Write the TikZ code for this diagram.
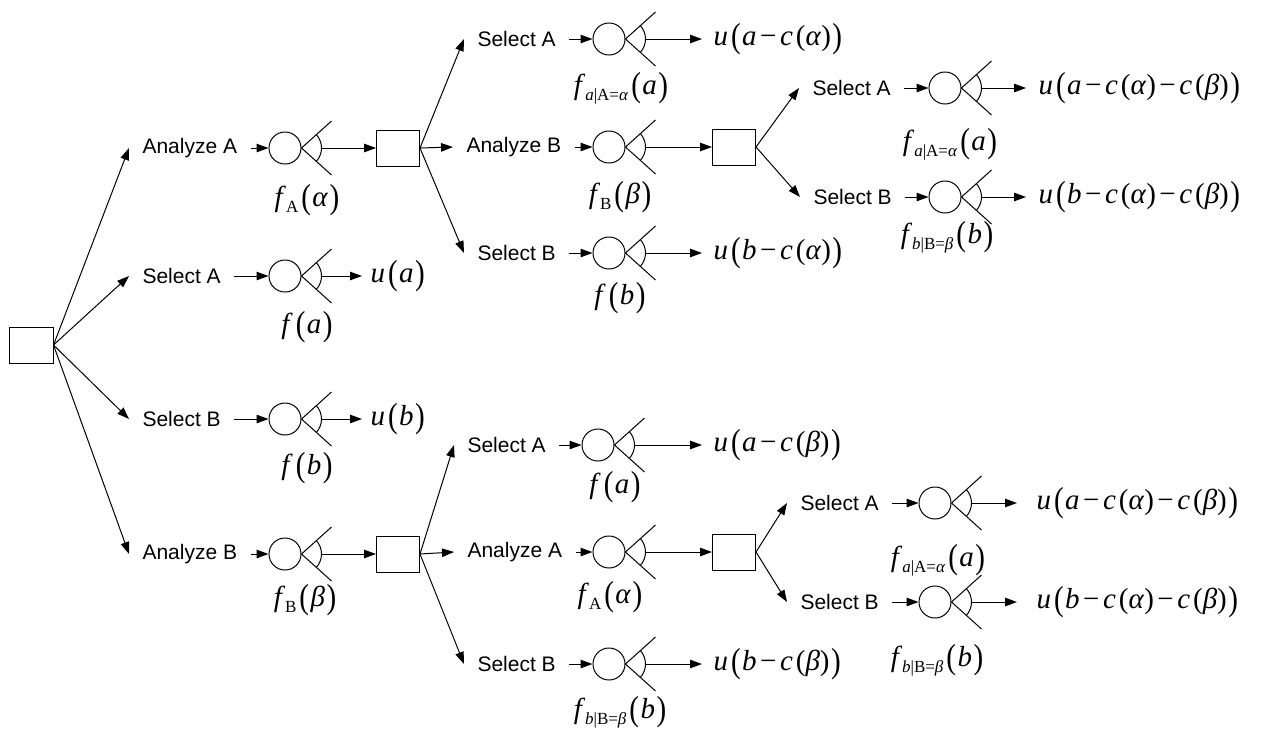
\documentclass[tikz,border=0pt]{standalone}
\usepackage{fontspec}
\usepackage{graphicx}
\setmainfont{Liberation Sans}
\newfontfamily\tms{Liberation Serif}
\usetikzlibrary{arrows.meta,calc}
\tikzset{
 arr/.style={-{Triangle[length=12pt,width=8.5pt]}},
 dec/.style={draw, minimum width=43pt, minimum height=36pt, inner sep=0pt},
 chance/.style={draw, circle, minimum size=32pt, inner sep=0pt},
 lbl/.style={font=\fontsize{21}{21}\selectfont, inner xsep=13pt, inner ysep=2pt, anchor=west},
 mth/.style={font=\tms\fontsize{29}{29}\selectfont, inner sep=0pt},
 val/.style={mth, anchor=west},
}
\newcommand{\fork}[1]{%
 \coordinate (#1-v) at (#1.east);
 \draw (#1-v) -- ++(30,-27) (#1-v) -- ++(30,27);
 \draw (#1-v) ++(-42:20) arc[start angle=-42,end angle=42,radius=20];
 \coordinate (#1-o) at ($(#1-v)+(20,0)$);
}
\newcommand{\vi}[1]{\textit{#1}}
\newcommand{\mm}{\kern3.5pt−\kern3.5pt}
\newcommand{\sbs}[1]{\raisebox{-0.22em}{\fontsize{17}{17}\selectfont #1}}
\newcommand{\lp}{\kern3pt(}
\newcommand{\Lp}{\kern3pt\raisebox{-0.07em}{\scalebox{1}[1.2]{(}}\kern1.5pt}
\newcommand{\Rp}{\kern1.5pt\raisebox{-0.07em}{\scalebox{1}[1.2]{)}}}
\begin{document}
\begin{tikzpicture}[x=1pt,y=-1pt,line width=1pt]
\useasboundingbox (0,0) rectangle (1269,732);
% root
\node[dec, minimum width=44pt] (r) at (31,345) {};
% level 1
\node[lbl] (l1a) at (129,148) {Analyze A};
\node[lbl] (l1b) at (129,276) {Select A};
\node[lbl] (l1c) at (129,419) {Select B};
\node[lbl] (l1d) at (129,554) {Analyze B};
\foreach \n in {l1a,l1b,l1c,l1d} \draw[arr] (r.east) -- (\n.west);
\node[chance] (c1a) at (285,148) {};
\node[chance] (c1b) at (285,276) {};
\node[chance] (c1c) at (285,419) {};
\node[chance] (c1d) at (285,554) {};
\foreach \n in {a,b,c,d} {\draw[arr] (l1\n.east) -- (c1\n.west); \fork{c1\n}}
\node[mth] (f1a) at (307,200) {\vi{f}\sbs{A}\Lp\vi{α}\Rp};
\node[mth] (f1b) at (307,327) {\vi{f}\Lp\vi{a}\Rp};
\node[mth] (f1c) at (307,468) {\vi{f}\Lp\vi{b}\Rp};
\node[mth] (f1d) at (305,600) {\vi{f}\sbs{B}\Lp\vi{β}\Rp};
\node[val] (v1b) at (370,276) {\vi{u}\Lp\vi{a}\Rp};
\node[val] (v1c) at (370,419) {\vi{u}\Lp\vi{b}\Rp};
\draw[arr, shorten >=8pt] (c1b-o) -- (v1b.west);
\draw[arr, shorten >=8pt] (c1c-o) -- (v1c.west);
\node[dec] (d1) at (398,148) {};
\node[dec] (d2) at (398,554) {};
\draw[arr] (c1a-o) -- (d1.west);
\draw[arr] (c1d-o) -- (d2.west);
% level 2 upper
\node[lbl] (l2a) at (464,39) {Select A};
\node[lbl] (l2b) at (453,147) {Analyze B};
\node[lbl] (l2c) at (464,253) {Select B};
\foreach \n in {a,b,c} \draw[arr] (d1.east) -- (l2\n.west);
\node[chance] (c2a) at (609,39) {};
\node[chance] (c2b) at (609,147) {};
\node[chance] (c2c) at (609,253) {};
\foreach \n in {a,b,c} {\draw[arr] (l2\n.east) -- (c2\n.west); \fork{c2\n}}
\node[mth] (f2a) at (621,88) {\vi{f}\sbs{\vi{a}|A=\vi{α}}\Lp\vi{a}\Rp};
\node[mth] (f2b) at (620,197) {\vi{f}\sbs{B}\Lp\vi{β}\Rp};
\node[mth] (f2c) at (620,298) {\vi{f}\Lp\vi{b}\Rp};
\node[val] (v2a) at (713,39) {\vi{u}\Lp\vi{a}\mm\vi{c}\lp\vi{α})\Rp};
\node[val] (v2c) at (713,253) {\vi{u}\Lp\vi{b}\mm\vi{c}\lp\vi{α})\Rp};
\draw[arr, shorten >=11pt] (c2a-o) -- (v2a.west);
\draw[arr, shorten >=11pt] (c2c-o) -- (v2c.west);
\node[dec] (d3) at (734,147) {};
\draw[arr] (c2b-o) -- (d3.west);
% level 3 upper
\node[lbl] (l3a) at (799,88) {Select A};
\node[lbl] (l3b) at (800,197) {Select B};
\foreach \n in {a,b} \draw[arr] (d3.east) -- (l3\n.west);
\node[chance] (c3a) at (945,88) {};
\node[chance] (c3b) at (945,197) {};
\foreach \n in {a,b} {\draw[arr] (l3\n.east) -- (c3\n.west); \fork{c3\n}}
\node[mth] (f3a) at (950,144) {\vi{f}\sbs{\vi{a}|A=\vi{α}}\Lp\vi{a}\Rp};
\node[mth] (f3b) at (947,237) {\vi{f}\sbs{\vi{b}|B=\vi{β}}\Lp\vi{b}\Rp};
\node[val] (v3a) at (1038,88) {\vi{u}\Lp\vi{a}\mm\vi{c}\lp\vi{α})\mm\vi{c}\lp\vi{β})\Rp};
\node[val] (v3b) at (1038,197) {\vi{u}\Lp\vi{b}\mm\vi{c}\lp\vi{α})\mm\vi{c}\lp\vi{β})\Rp};
\draw[arr, shorten >=12pt] (c3a-o) -- (v3a.west);
\draw[arr, shorten >=12pt] (c3b-o) -- (v3b.west);
% level 2 lower
\node[lbl] (l4a) at (454,445) {Select A};
\node[lbl] (l4b) at (454,552) {Analyze A};
\node[lbl] (l4c) at (464,664) {Select B};
\foreach \n in {a,b,c} \draw[arr] (d2.east) -- (l4\n.west);
\node[chance] (c4a) at (598,445) {};
\node[chance] (c4b) at (609,552) {};
\node[chance] (c4c) at (609,664) {};
\foreach \n in {a,b,c} {\draw[arr] (l4\n.east) -- (c4\n.west); \fork{c4\n}}
\node[mth] (f4a) at (615,487) {\vi{f}\Lp\vi{a}\Rp};
\node[mth] (f4b) at (610,597) {\vi{f}\sbs{A}\Lp\vi{α}\Rp};
\node[mth] (f4c) at (620,712) {\vi{f}\sbs{\vi{b}|B=\vi{β}}\Lp\vi{b}\Rp};
\node[val] (v4a) at (713,445) {\vi{u}\Lp\vi{a}\mm\vi{c}\lp\vi{β})\Rp};
\node[val] (v4c) at (713,664) {\vi{u}\Lp\vi{b}\mm\vi{c}\lp\vi{β})\Rp};
\draw[arr, shorten >=11pt] (c4a-o) -- (v4a.west);
\draw[arr, shorten >=11pt] (c4c-o) -- (v4c.west);
\node[dec] (d4) at (734,552) {};
\draw[arr] (c4b-o) -- (d4.west);
% level 3 lower
\node[lbl] (l5a) at (787,503) {Select A};
\node[lbl] (l5b) at (787,602) {Select B};
\foreach \n in {a,b} \draw[arr] (d4.east) -- (l5\n.west);
\node[chance] (c5a) at (935,503) {};
\node[chance] (c5b) at (935,602) {};
\foreach \n in {a,b} {\draw[arr] (l5\n.east) -- (c5\n.west); \fork{c5\n}}
\node[mth] (f5a) at (938,560) {\vi{f}\sbs{\vi{a}|A=\vi{α}}\Lp\vi{a}\Rp};
\node[mth] (f5b) at (937,660) {\vi{f}\sbs{\vi{b}|B=\vi{β}}\Lp\vi{b}\Rp};
\node[val] (v5a) at (1036,503) {\vi{u}\Lp\vi{a}\mm\vi{c}\lp\vi{α})\mm\vi{c}\lp\vi{β})\Rp};
\node[val] (v5b) at (1036,602) {\vi{u}\Lp\vi{b}\mm\vi{c}\lp\vi{α})\mm\vi{c}\lp\vi{β})\Rp};
\draw[arr, shorten >=19pt] (c5a-o) -- (v5a.west);
\draw[arr, shorten >=19pt] (c5b-o) -- (v5b.west);
\end{tikzpicture}
\end{document}
